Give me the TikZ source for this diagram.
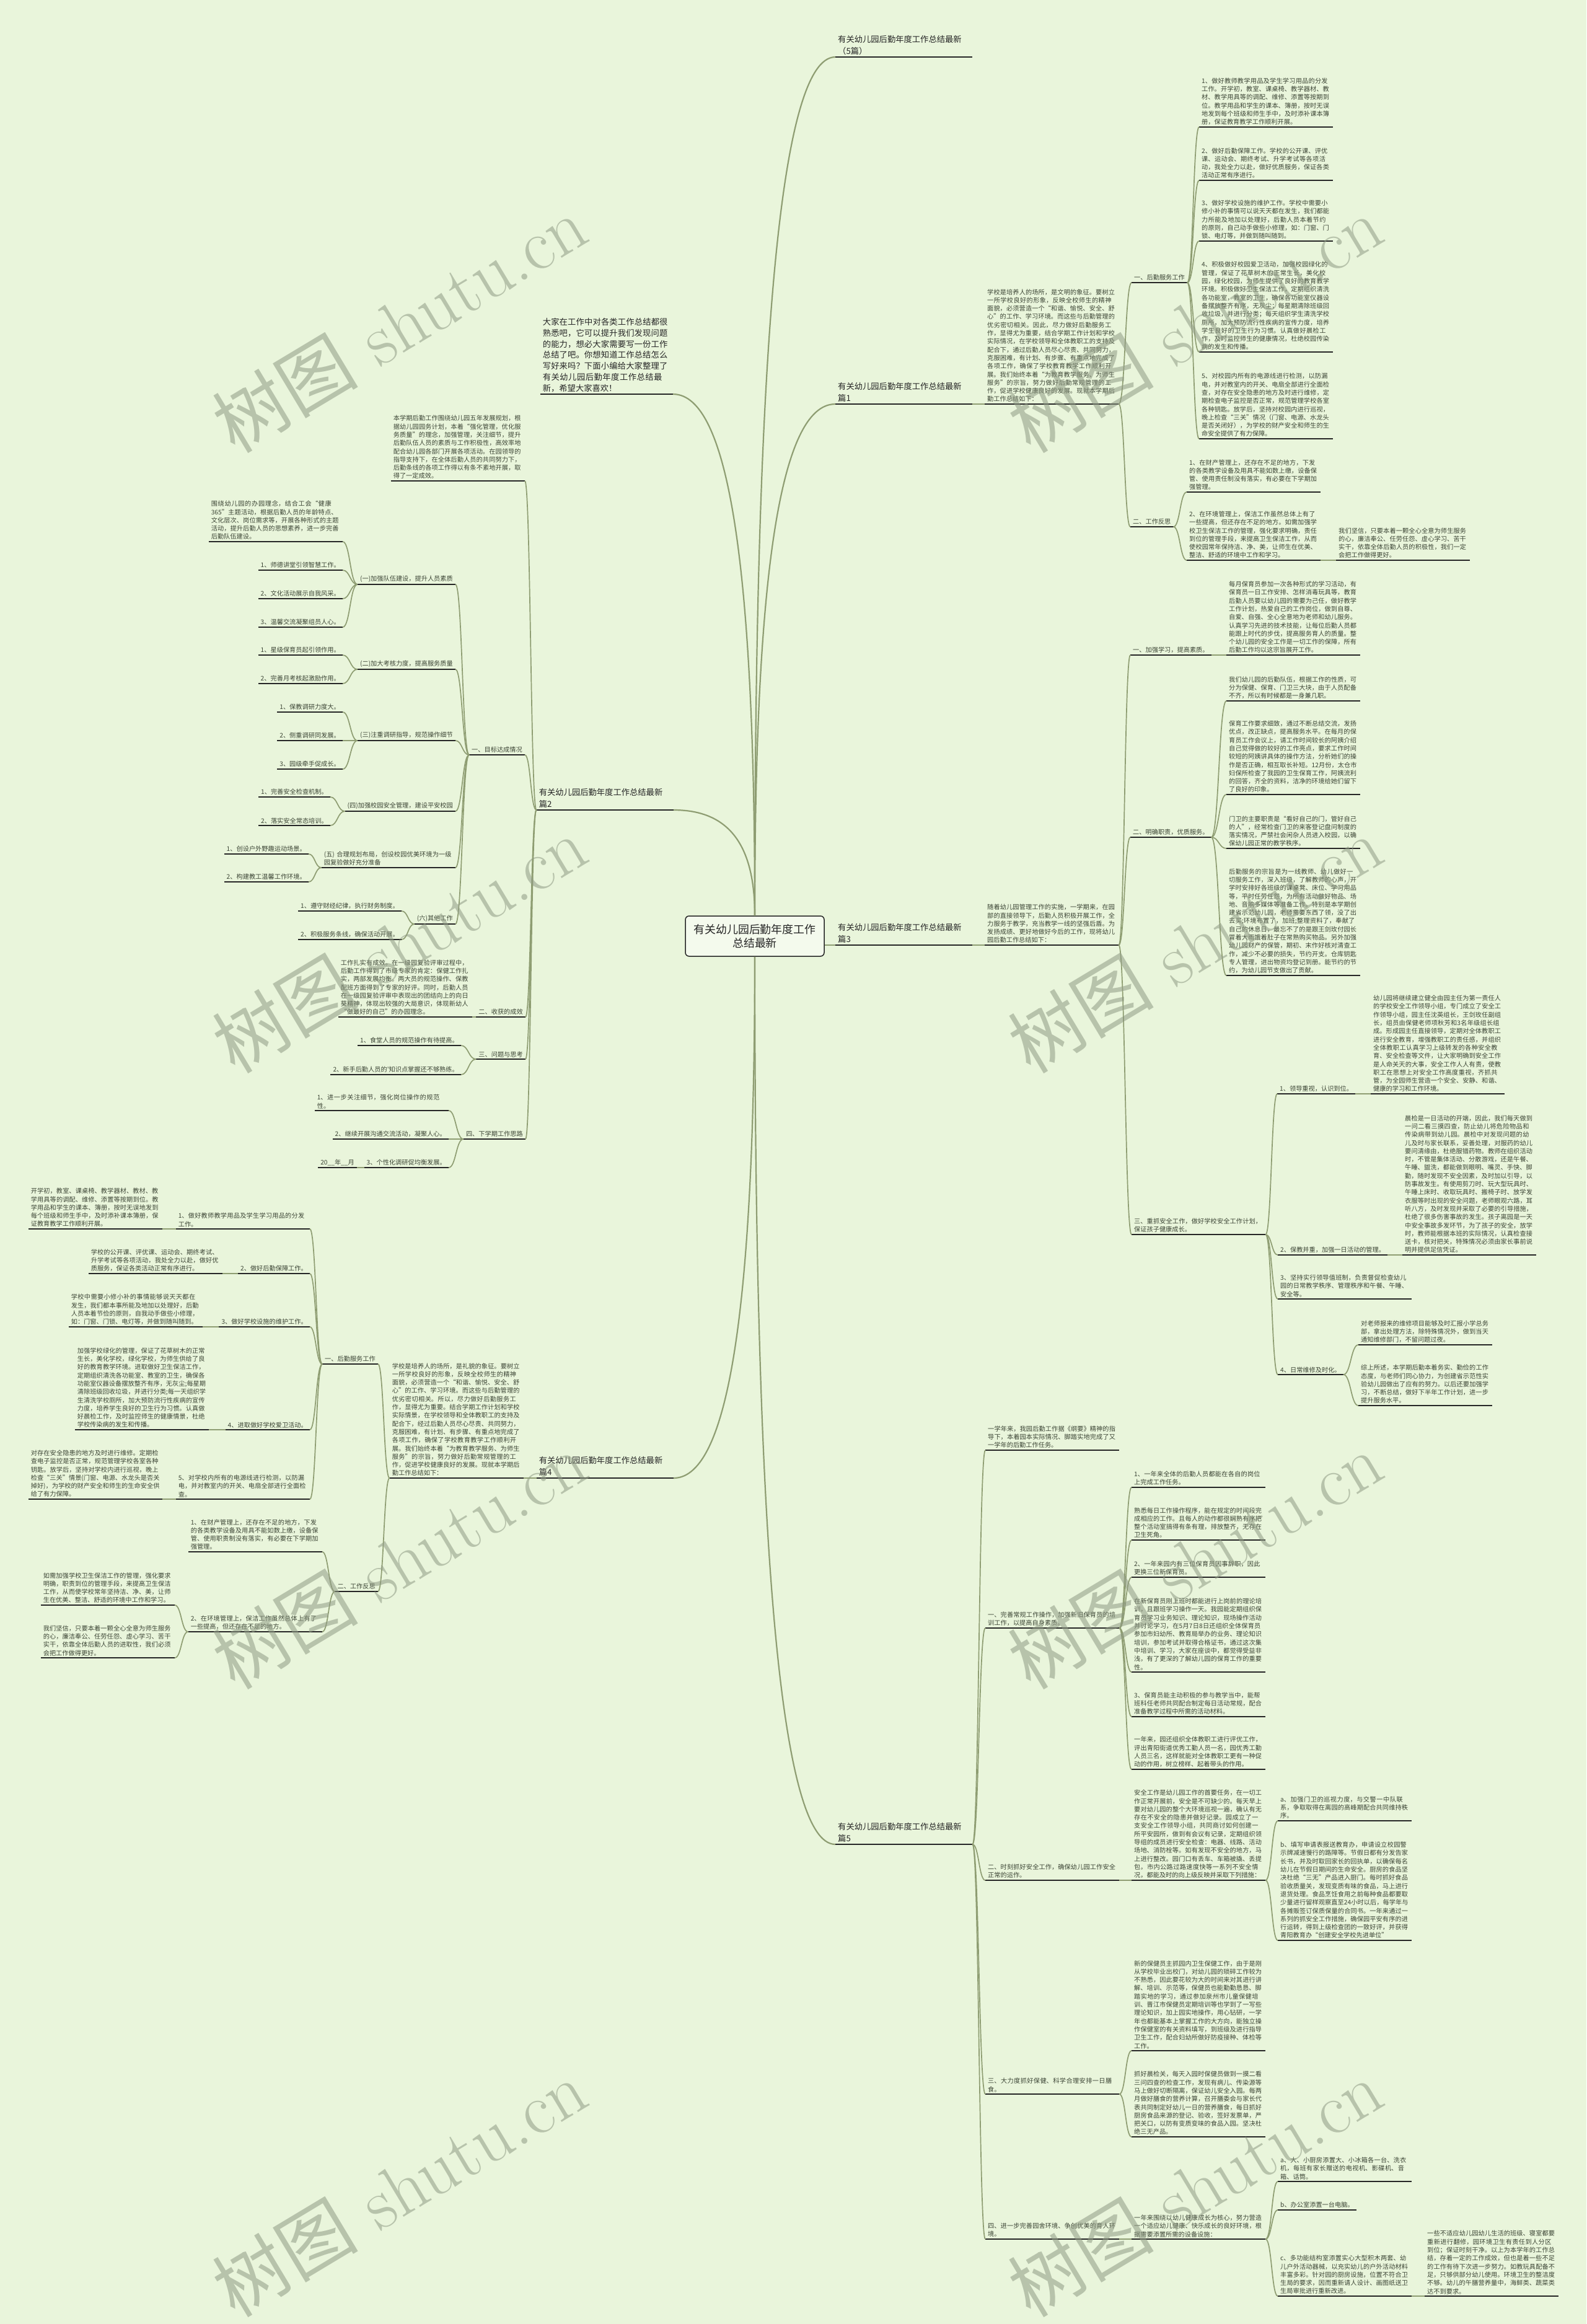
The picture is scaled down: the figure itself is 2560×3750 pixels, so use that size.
\documentclass[tikz,border=0pt]{standalone}
\usepackage{fontspec}
\newfontfamily\cjk{Noto Sans CJK SC}
\XeTeXlinebreaklocale "zh"
\XeTeXlinebreakskip=0pt plus 1pt
\usetikzlibrary{calc}
\definecolor{bg}{HTML}{E9F5DB}
\definecolor{wire}{HTML}{8E9D72}
\definecolor{ink}{HTML}{3C4535}
\definecolor{dark}{HTML}{262626}
\definecolor{wmark}{HTML}{8F9A84}
\newcommand\fsmall{\fontsize{10.2}{13.3}\selectfont}
\newcommand\fmid{\fontsize{13.3}{19}\selectfont}
\newcommand\fintro{\fontsize{13.3}{17.8}\selectfont}
\newcommand\fbig{\fontsize{17.9}{22}\selectfont}
\tikzset{
  every node/.style={font=\cjk\fsmall, text=ink, inner xsep=4pt, inner ysep=3pt, align=left},
  para/.style={text width=208pt},
  rt/.style={anchor=south west},
  lf/.style={anchor=south east},
  ttl/.style={font=\cjk\fmid, text=dark, text width=213pt},
  uline/.style={line width=2.6pt, draw=dark},
  conn/.style={draw=wire, line width=1.7pt},
  sc/.style={to path={let \p1=(\tikztostart), \p2=(\tikztotarget) in
    .. controls ({(\x1+\x2)/2},\y1) and ({(\x1+\x2)/2},\y2) .. (\tikztotarget)}},
  tk/.style={to path={let \p1=(\tikztostart), \p2=(\tikztotarget) in
    .. controls (\x1,{\y2+0.35*(\y1-\y2)}) and ({\x1+0.3*(\x2-\x1)},\y2) .. (\tikztotarget)}},
  wm/.style={font=\rmfamily\fontsize{118}{118}\selectfont, text=wmark, text opacity=.55, rotate=31, align=center}
}
\begin{document}
\begin{tikzpicture}[x=1pt,y=-1pt]
\useasboundingbox (0,0) rectangle (2560,3750);
\fill[bg] (0,0) rectangle (2560,3750);

\node[draw=dark, line width=1.5pt, rounded corners=6pt, fill=bg!50!white, font=\cjk\fbig, text=dark,
  align=center, minimum width=224pt, minimum height=65pt, inner sep=0pt] (c) at (1218,1510.5)
  {有关幼儿园后勤年度工作\\总结最新};

\node[ttl,rt] (r0) at (1348,92) {有关幼儿园后勤年度工作总结最新\\（5篇）};
\node[ttl,rt] (r1) at (1348,652) {有关幼儿园后勤年度工作总结最新\\篇1};
\node[ttl,rt] (r3) at (1348,1525) {有关幼儿园后勤年度工作总结最新\\篇3};
\node[ttl,rt] (r5) at (1348,2976) {有关幼儿园后勤年度工作总结最新\\篇5};

\node[para,rt] (r1p) at (1589,652) {学校是培养人的场所，是文明的象征。要树立一所学校良好的形象，反映全校师生的精神面貌，必须营造一个“和谐、愉悦、安全、舒心”的工作、学习环境。而这些与后勤管理的优劣密切相关。因此，尽力做好后勤服务工作，显得尤为重要，结合学期工作计划和学校实际情况，在学校领导和全体教职工的支持及配合下，通过后勤人员尽心尽责、共同努力，克服困难，有计划、有步骤、有重点地完成了各项工作，确保了学校教育教学工作顺利开展。我们始终本着“为教育教学服务、为师生服务”的宗旨，努力做好后勤常规管理的工作，促进学校健康良好的发展。现就本学期后勤工作总结如下：};
\node[rt] (r1a) at (1826,456) {一、后勤服务工作};
\node[rt] (r1b) at (1824,850) {二、工作反思};
\node[para,rt] (r1a1) at (1935,205) {1、做好教师教学用品及学生学习用品的分发工作。开学初，教室、课桌椅、教学器材、教材、教学用具等的调配、维修、添置等按期到位。教学用品和学生的课本、簿册，按时无误地发到每个班级和师生手中，及时添补课本簿册，保证教育教学工作顺利开展。};
\node[para,rt] (r1a2) at (1935,291) {2、做好后勤保障工作。学校的公开课、评优课、运动会、期终考试、升学考试等各项活动，我处全力以赴，做好优质服务，保证各类活动正常有序进行。};
\node[para,rt] (r1a3) at (1935,389) {3、做好学校设施的维护工作。学校中需要小修小补的事情可以说天天都在发生，我们都能力所能及地加以处理好，后勤人员本着节约的原则，自己动手做些小修理，如：门窗、门锁、电灯等，并做到随叫随到。};
\node[para,rt] (r1a4) at (1935,568) {4、积极做好校园爱卫活动，加强校园绿化的管理，保证了花草树木的正常生长，美化校园，绿化校园，为师生提供了良好的教育教学环境。积极做好卫生保洁工作，定期组织清洗各功能室，教室的卫生，确保各功能室仪器设备摆放整齐有序，无灰尘；每星期清除班级回收垃圾，并进行分类；每天组织学生清洗学校厕所，加大预防流行性疾病的宣传力度，培养学生良好的卫生行为习惯。认真做好晨检工作，及时监控师生的健康情况，杜绝校园传染病的发生和传播。};
\node[para,rt] (r1a5) at (1935,708) {5、对校园内所有的电源线进行检测，以防漏电，并对教室内的开关、电扇全部进行全面检查，对存在安全隐患的地方及时进行维修，定期检查电子监控是否正常，规范管理学校各室各种钥匙。放学后，坚持对校园内进行巡视，晚上检查“三关”情况（门窗、电源、水龙头是否关闭好），为学校的财产安全和师生的生命安全提供了有力保障。};
\node[para,rt] (r1b1) at (1915,794) {1、在财产管理上，还存在不足的地方，下发的各类教学设备及用具不能如数上缴，设备保管、使用责任制没有落实，有必要在下学期加强管理。};
\node[para,rt] (r1b2) at (1915,904) {2、在环境管理上，保洁工作虽然总体上有了一些提高，但还存在不足的地方。如需加强学校卫生保洁工作的管理，强化要求明确，责任到位的管理手段，来提高卫生保洁工作，从而使校园常年保持洁、净、美，让师生在优美、整洁、舒适的环境中工作和学习。};
\node[para,rt] (r1b2a) at (2156,904) {我们坚信，只要本着一颗全心全意为师生服务的心，廉洁奉公、任劳任怨、虚心学习、苦干实干，依靠全体后勤人员的积极性，我们一定会把工作做得更好。};

\node[para,rt] (r3p) at (1589,1525) {随着幼儿园管理工作的实施，一学期来，在园部的直接领导下，后勤人员积极开展工作，全力服务于教学，充当教学一线的坚强后盾。为发扬成绩、更好地做好今后的工作，现将幼儿园后勤工作总结如下：};
\node[rt] (r3a) at (1824,1057) {一、加强学习，提高素质。};
\node[para,rt] (r3a1) at (1979,1057) {每月保育员参加一次各种形式的学习活动，有保育员一日工作安排、怎样消毒玩具等，教育后勤人员要以幼儿园的需要为己任，做好教学工作计划，热爱自己的工作岗位，做到自尊、自爱、自强、全心全意地为老师和幼儿服务。认真学习先进的技术技能，让每位后勤人员都能跟上时代的步伐，提高服务育人的质量。整个幼儿园的安全工作是一切工作的保障，所有后勤工作均以这宗旨展开工作。};
\node[rt] (r3b) at (1824,1351) {二、明确职责，优质服务。};
\node[para,rt] (r3b1) at (1979,1131) {我们幼儿园的后勤队伍，根据工作的性质，可分为保健、保育、门卫三大块，由于人员配备不齐，所以有时候都是一身兼几职。};
\node[para,rt] (r3b2) at (1979,1282) {保育工作要求细致，通过不断总结交流，发扬优点，改正缺点，提高服务水平。在每月的保育员工作会议上，请工作时间较长的阿姨介绍自己觉得做的较好的工作亮点，要求工作时间较短的阿姨讲具体的操作方法，分析她们的操作是否正确，相互取长补短。12月份，太仓市妇保所检查了我园的卫生保育工作，阿姨流利的回答，齐全的资料，洁净的环境给她们留下了良好的印象。};
\node[para,rt] (r3b3) at (1979,1369) {门卫的主要职责是“看好自己的门，管好自己的人”，经常检查门卫的来客登记盘问制度的落实情况，严禁社会闲杂人员进入校园，以确保幼儿园正常的教学秩序。};
\node[para,rt] (r3b4) at (1979,1574) {后勤服务的宗旨是为一线教师、幼儿做好一切服务工作，深入班级，了解教师的心声，开学时安排好各班级的课桌凳、床位、学习用品等，平时任劳任怨，为所有活动做好物品、场地、音响多媒体等准备工作。特别是本学期创建省示范幼儿园，老师需要东西了领，没了出去买;环境布置了，加班;整理资料了，奉献了自己的休息日，最忘不了的是跟王剑玫付园长冒着大雨饿着肚子在常熟购买物品。另外加强幼儿园财产的保管，期初、末作好核对清查工作，减少不必要的损失，节约开支。仓库钥匙专人管理，进出物资均登记到册。能节约的节约，为幼儿园节支做出了贡献。};
\node[para,rt] (r3c) at (1826,1992) {三、重抓安全工作，做好学校安全工作计划，保证孩子健康成长。};
\node[rt] (r3c1) at (2061,1765) {1、领导重视，认识到位。};
\node[para,rt] (r3c1a) at (2212,1765) {幼儿园将继续建立健全由园主任为第一责任人的学校安全工作领导小组，专门成立了安全工作领导小组，园主任沈英组长，王剑玫任副组长，组员由保健老师项秋芳和3名年级组长组成。形成园主任直接领导，定期对全体教职工进行安全教育，增强教职工的责任感，并组织全体教职工认真学习上级转发的各种安全教育、安全检查等文件，让大家明确到安全工作是人命关天的大事，安全工作人人有责，使教职工在思想上对安全工作高度重视，齐抓共管，为全园师生营造一个安全、安静、和谐、健康的学习和工作环境。};
\node[rt] (r3c2) at (2062,2025) {2、保教并重，加强一日活动的管理。};
\node[para,rt] (r3c2a) at (2263,2025) {晨检是一日活动的开端，因此，我们每天做到一问二看三摸四查，防止幼儿将危险物品和传染病带到幼儿园。晨检中对发现问题的幼儿及时与家长联系，妥善处理，对服药的幼儿要问清缘由，杜绝服错药物。教师在组织活动时，不管是集体活动、分散游戏，还是午餐、午睡、盥洗，都能做到眼明、嘴灵、手快、脚勤，随时发现不安全因素，及时加以引导，以防事故发生。有使用剪刀时、玩大型玩具时、午睡上床时、收取玩具时、搬椅子时、放学发衣服等时出现的安全问题，老师眼观六路，耳听八方，及时发现并采取了必要的引导措施，杜绝了很多伤害事故的发生。孩子离园是一天中安全事故多发环节，为了孩子的安全，放学时，教师能根据本班的实际情况，认真检查接送卡，核对把关，特殊情况必须由家长事前说明并提供足信凭证。};
\node[para,rt] (r3c3) at (2062,2096) {3、坚持实行领导值班制，负责督促检查幼儿园的日常教学秩序、管理秩序和午餐、午睡、安全等。};
\node[rt] (r3c4) at (2062,2218) {4、日常维修及时化。};
\node[para,rt] (r3c4a) at (2192,2170) {对老师报来的维修项目能够及时汇报小学总务部，拿出处理方法，除特殊情况外，做到当天通知维修部门，不留问题过夜。};
\node[para,rt] (r3c4b) at (2192,2268) {综上所述，本学期后勤本着务实、勤俭的工作态度，与老师们同心协力，为创建省示范性实验幼儿园做出了应有的努力。以后还要加强学习，不断总结，做好下半年工作计划，进一步提升服务水平。};

\node[para,rt] (r5p) at (1590,2340) {一学年来，我园后勤工作据《纲要》精神的指导下，本着园本实际情况、脚踏实地完成了又一学年的后勤工作任务。};
\node[para,rt] (r5a) at (1590,2627) {一、完善常规工作操作，加强新旧保育员的培训工作，以提高自身素质。};
\node[para,rt] (r5b) at (1590,3034) {二、时刻抓好安全工作，确保幼儿园工作安全正常的运作。};
\node[para,rt] (r5c) at (1590,3379) {三、大力度抓好保健、科学合理安排一日膳食。};
\node[para,rt] (r5d) at (1590,3613) {四、进一步完善园舍环境、争创优美的育人环境。};
\node[para,rt] (r5a1) at (1826,2400) {1、一年来全体的后勤人员都能在各自的岗位上完成工作任务。};
\node[para,rt] (r5a2) at (1826,2485) {熟悉每日工作操作程序，能在规定的时间段完成相应的工作。且每人的动作都很娴熟有序把整个活动室搞得有条有理，排放整齐，无存在卫生死角。};
\node[para,rt] (r5a3) at (1826,2545) {2、一年来园内有三位保育员因事辞职，因此更换三位新保育员。};
\node[para,rt] (r5a4) at (1826,2698) {在新保育员刚上班时都能进行上岗前的理论培训，且跟班学习操作一天。我园能定期组织保育员学习业务知识、理论知识，现场操作活动并讨论学习，在5月7日8日还组织全体保育员参加市妇幼所、教育局举办的业务、理论知识培训，参加考试并取得合格证书，通过这次集中培训、学习，大家在座谈中，都觉得受益非浅，有了更深的了解幼儿园的保育工作的重要性。};
\node[para,rt] (r5a5) at (1826,2770) {3、保育员能主动积极的参与教学当中，能帮班科任老师共同配合制定每日活动常规，配合准备教学过程中所需的活动材料。};
\node[para,rt] (r5a6) at (1826,2855) {一年来，园还组织全体教职工进行评优工作，评出青阳街道优秀工勤人员一名，园优秀工勤人员三名，这样就能对全体教职工更有一种促动的作用，树立榜样、起着带头的作用。};
\node[para,rt] (r5b1) at (1826,3034) {安全工作是幼儿园工作的首要任务，在一切工作正常开展前，安全是不可缺少的。每天早上要对幼儿园的整个大环境巡视一遍，确认有无存在不安全的隐患并做好记录。园成立了一支安全工作领导小组，共同商讨如何创建一所平安园所，做到有会议有记录，定期组织领导组的成员进行安全检查：电器、线路、活动场地、消防栓等。如有发现不安全的地方，马上进行整改。园门口有丢车、车箱被撬、丢提包，市内公路过路速度快等一系列不安全情况，都能及时的向上级反映并采取下列措施：};
\node[para,rt] (r5b1a) at (2062,2938) {a、加强门卫的巡视力度，与交警一中队联系，争取取得在离园的高峰期配合共同维持秩序。};
\node[para,rt] (r5b1b) at (2062,3131) {b、填写申请表报送教育办，申请设立校园警示牌减速慢行的路障等。节假日都有分发告家长书，并及时取回家长的回执单，以确保每名幼儿在节假日期间的生命安全。厨房的食品坚决杜绝“三无”产品进入厨门。每时抓好食品验收质量关，发现变质有味的食品，马上进行退货处理。食品烹饪食用之前每种食品都要取少量进行留样观察直至24小时以后，每学年与各摊贩签订保质保量的合同书。一年来通过一系列的抓安全工作措施，确保园平安有序的进行运转，得到上级检查团的一致好评，并获得青阳教育办“创建安全学校先进单位”};
\node[para,rt] (r5c1) at (1826,3309) {新的保健员主抓园内卫生保健工作，由于是刚从学校毕业出校门，对幼儿园的琐碎工作较为不熟悉，因此要花较为大的时间来对其进行讲解、培训、示范等，保健员也能勤勤恳恳、脚踏实地的学习，通过参加泉州市儿童保健培训、晋江市保健员定期培训等也学到了一写些理论知识，加上园实地操作，用心钻研，一学年也都能基本上掌握工作的大方向，能独立操作保健室的有关资料填写，到班级及进行指导卫生工作，配合妇幼所做好防疫接种、体检等工作。};
\node[para,rt] (r5c2) at (1826,3448) {抓好晨检关，每天入园时保健员做到一摸二看三问四查的检查工作，发现有病儿、传染源等马上做好切断隔离，保证幼儿安全入园。每两月做好膳食的营养计算，召开膳委会与家长代表共同制定好幼儿一日的营养膳食，每日抓好厨房食品来源的登记、验收，签好发票单，严把关口，以防有变质变味的食品入园。坚决杜绝三无产品。};
\node[para,rt] (r5d1) at (1826,3613) {一年来围绕以幼儿健康成长为核心，努力营造一个适应幼儿健康、快乐成长的良好环境，根据需要添置所需的设备设施：};
\node[para,rt] (r5d1a) at (2062,3520) {a、大、小厨房添置大、小冰箱各一台、洗衣机，每班有家长赠送的电视机、影碟机、音箱、话筒。};
\node[rt] (r5d1b) at (2062,3566) {b、办公室添置一台电脑。};
\node[para,rt] (r5d1c) at (2062,3705) {c、多功能结构室添置实心大型积木两套、幼儿户外活动器械，以充实幼儿的户外活动材料丰富多彩。针对园的厨房设施，位置不符合卫生局的要求，因而重新请人设计、画图纸送卫生局审批进行重新改进。};
\node[para,rt] (r5d1c1) at (2299,3705) {一些不适应幼儿园幼儿生活的班级、寝室都要重新进行翻修，园环境卫生有责任到人分区到位；保证时刻干净。以上为本学年的工作总结，存着一定的工作成效，但也是着一些不足的工作有待下次进一步努力。如教玩具配备不足，只够供部分幼儿使用。环境卫生的整洁度不够。幼儿的午膳营养量中，海鲜类、蔬菜类达不到要求。};

\node[lf, font=\cjk\fintro, text=dark, text width=206pt] (l0) at (1086,636) {大家在工作中对各类工作总结都很熟悉吧，它可以提升我们发现问题的能力，想必大家需要写一份工作总结了吧。你想知道工作总结怎么写好来吗？下面小编给大家整理了有关幼儿园后勤年度工作总结最新，希望大家喜欢！};
\node[ttl,lf] (l2) at (1087,1307) {有关幼儿园后勤年度工作总结最新\\篇2};
\node[ttl,lf] (l4) at (1087,2385) {有关幼儿园后勤年度工作总结最新\\篇4};

\node[para,lf] (l2p) at (847,776) {本学期后勤工作围绕幼儿园五年发展规划，根据幼儿园园务计划，本着“强化管理，优化服务质量”的理念，加强管理，关注细节，提升后勤队伍人员的素质与工作积极性，高效率地配合幼儿园各部门开展各项活动。在园领导的指导支持下，在全体后勤人员的共同努力下，后勤条线的各项工作得以有条不紊地开展，取得了一定成效。};
\node[lf] (l2a) at (847,1218) {一、目标达成情况};
\node[lf] (l2b) at (848,1641) {二、收获的成效};
\node[lf] (l2c) at (848,1709) {三、问题与思考};
\node[lf] (l2d) at (848,1838) {四、下学期工作思路};
\node[lf] (l2a1) at (735,943) {(一)加强队伍建设，提升人员素质};
\node[lf] (l2a2) at (735,1080) {(二)加大考核力度，提高服务质量};
\node[lf] (l2a3) at (735,1195) {(三)注重调研指导，规范操作细节};
\node[lf] (l2a4) at (735,1309) {(四)加强校园安全管理，建设平安校园};
\node[para,lf] (l2a5) at (735,1400) {(五) 合理规划布局，创设校园优美环境为一级园复验做好充分准备};
\node[lf] (l2a6) at (735,1491) {(六)其他工作};
\node[para,lf] (l2a1p) at (553,874) {围绕幼儿园的办园理念，结合工会“健康365”主题活动，根据后勤人员的年龄特点、文化层次、岗位需求等，开展各种形式的主题活动，提升后勤人员的思想素养，进一步完善后勤队伍建设。};
\node[lf] (l2a1a) at (553,920) {1、师德讲堂引领智慧工作。};
\node[lf] (l2a1b) at (553,966) {2、文化活动展示自我风采。};
\node[lf] (l2a1c) at (553,1012) {3、温馨交流凝聚组员人心。};
\node[lf] (l2a2a) at (553,1057) {1、星级保育员起引领作用。};
\node[lf] (l2a2b) at (553,1103) {2、完善月考核起激励作用。};
\node[lf] (l2a3a) at (553,1149) {1、保教调研力度大。};
\node[lf] (l2a3b) at (553,1195) {2、侧重调研同发展。};
\node[lf] (l2a3c) at (553,1241) {3、园级牵手促成长。};
\node[lf] (l2a4a) at (533,1286) {1、完善安全检查机制。};
\node[lf] (l2a4b) at (533,1332) {2、落实安全常态培训。};
\node[lf] (l2a5a) at (498,1378) {1、创设户外野趣运动场景。};
\node[lf] (l2a5b) at (498,1423) {2、构建教工温馨工作环境。};
\node[lf] (l2a6a) at (648,1470) {1、遵守财经纪律，执行财务制度。};
\node[lf] (l2a6b) at (648,1516) {2、积极服务条线，确保活动开展。};
\node[para,lf] (l2b1) at (762,1641) {工作扎实有成效。在一级园复验评审过程中，后勤工作得到了市级专家的肯定：保健工作扎实，两部发展均衡。两大员的规范操作、保教配班方面得到了专家的好评。同时，后勤人员在一级园复验评审中表现出的团结向上的向日葵精神，体现出较强的大局意识，体现新幼人“做最好的自己”的办园理念。};
\node[lf] (l2c1) at (744,1687) {1、食堂人员的规范操作有待提高。};
\node[lf] (l2c2) at (744,1734) {2、新手后勤人员的'知识点掌握还不够熟练。};
\node[para,lf] (l2d1) at (724,1792) {1、进一步关注细节，强化岗位操作的规范性。};
\node[lf] (l2d2) at (724,1838) {2、继续开展沟通交流活动，凝聚人心。};
\node[lf] (l2d3) at (724,1884) {3、个性化调研促均衡发展。};
\node[lf] (l2d3a) at (576,1884) {20\_\_年\_\_月};

\node[para,lf] (l4p) at (845,2385) {学校是培养人的场所，是礼貌的象征。要树立一所学校良好的形象，反映全校师生的精神面貌，必须营造一个“和谐、愉悦、安全、舒心”的工作、学习环境。而这些与后勤管理的优劣密切相关。所以，尽力做好后勤服务工作，显得尤为重要。结合学期工作计划和学校实际情景，在学校领导和全体教职工的支持及配合下，经过后勤人员尽心尽责、共同努力，克服困难，有计划、有步骤、有重点地完成了各项工作，确保了学校教育教学工作顺利开展。我们始终本着“为教育教学服务、为师生服务”的宗旨，努力做好后勤常规管理的工作，促进学校健康良好的发展。现就本学期后勤工作总结如下：};
\node[lf] (l4a) at (610,2201) {一、后勤服务工作};
\node[lf] (l4b) at (610,2568) {二、工作反思};
\node[para,lf] (l4a1) at (500,1983) {1、做好教师教学用品及学生学习用品的分发工作。};
\node[para,lf] (l4a1a) at (262,1983) {开学初，教室、课桌椅、教学器材、教材、教学用具等的调配、维修、添置等按期到位。教学用品和学生的课本、簿册，按时无误地发到每个班级和师生手中，及时添补课本簿册，保证教育教学工作顺利开展。};
\node[lf] (l4a2) at (500,2055) {2、做好后勤保障工作。};
\node[para,lf] (l4a2a) at (359,2055) {学校的公开课、评优课、运动会、期终考试、升学考试等各项活动，我处全力以赴，做好优质服务，保证各类活动正常有序进行。};
\node[lf] (l4a3) at (500,2141) {3、做好学校设施的维护工作。};
\node[para,lf] (l4a3a) at (327,2141) {学校中需要小修小补的事情能够说天天都在发生，我们都本事所能及地加以处理好，后勤人员本着节俭的原则，自我动手做些小修理，如：门窗、门锁、电灯等，并做到随叫随到。};
\node[lf] (l4a4) at (500,2307) {4、进取做好学校爱卫活动。};
\node[para,lf] (l4a4a) at (337,2307) {加强学校绿化的管理，保证了花草树木的正常生长，美化学校，绿化学校，为师生供给了良好的教育教学环境。进取做好卫生保洁工作，定期组织清洗各功能室、教室的卫生，确保各功能室仪器设备摆放整齐有序，无灰尘;每星期清除班级回收垃圾，并进行分类;每一天组织学生清洗学校厕所，加大预防流行性疾病的宣传力度，培养学生良好的卫生行为习惯。认真做好晨检工作，及时监控师生的健康情景，杜绝学校传染病的发生和传播。};
\node[para,lf] (l4a5) at (500,2419) {5、对学校内所有的电源线进行检测，以防漏电，并对教室内的开关、电扇全部进行全面检查。};
\node[para,lf] (l4a5a) at (262,2419) {对存在安全隐患的地方及时进行维修。定期检查电子监控是否正常，规范管理学校各室各种钥匙。放学后，坚持对学校内进行巡视，晚上检查“三关”情景(门窗、电源、水龙头是否关掉好)，为学校的财产安全和师生的生命安全供给了有力保障。};
\node[para,lf] (l4b1) at (520,2504) {1、在财产管理上，还存在不足的地方，下发的各类教学设备及用具不能如数上缴，设备保管、使用职责制没有落实，有必要在下学期加强管理。};
\node[para,lf] (l4b2) at (520,2633) {2、在环境管理上，保洁工作虽然总体上有了一些提高，但还存在不足的地方。};
\node[para,lf] (l4b2a) at (282,2590) {如需加强学校卫生保洁工作的管理，强化要求明确，职责到位的管理手段，来提高卫生保洁工作，从而使学校常年坚持洁、净、美，让师生在优美、整洁、舒适的环境中工作和学习。};
\node[para,lf] (l4b2b) at (282,2675) {我们坚信，只要本着一颗全心全意为师生服务的心，廉洁奉公、任劳任怨、虚心学习、苦干实干，依靠全体后勤人员的进取性，我们必须会把工作做得更好。};

\foreach \n in {r0,r1,r3,r5,r1p,r1a,r1b,r1a1,r1a2,r1a3,r1a4,r1a5,r1b1,r1b2,r1b2a,
  r3p,r3a,r3a1,r3b,r3b1,r3b2,r3b3,r3b4,r3c,r3c1,r3c1a,r3c2,r3c2a,r3c3,r3c4,r3c4a,r3c4b,
  r5p,r5a,r5b,r5c,r5d,r5a1,r5a2,r5a3,r5a4,r5a5,r5a6,r5b1,r5b1a,r5b1b,r5c1,r5c2,r5d1,r5d1a,r5d1b,r5d1c,r5d1c1,
  l0,l2,l4,l2p,l2a,l2b,l2c,l2d,l2a1,l2a2,l2a3,l2a4,l2a5,l2a6,l2a1p,l2a1a,l2a1b,l2a1c,l2a2a,l2a2b,
  l2a3a,l2a3b,l2a3c,l2a4a,l2a4b,l2a5a,l2a5b,l2a6a,l2a6b,l2b1,l2c1,l2c2,l2d1,l2d2,l2d3,l2d3a,
  l4p,l4a,l4b,l4a1,l4a1a,l4a2,l4a2a,l4a3,l4a3a,l4a4,l4a4a,l4a5,l4a5a,l4b1,l4b2,l4b2a,l4b2b}
  \draw[uline] (\n.south west) -- (\n.south east);

\foreach \b in {r0,r1} \draw[conn, line width=2.2pt] (c.north) to[tk] (\b.south west);
\draw[conn, line width=2.2pt] (c.south) to[tk] (r5.south west);
\draw[conn, line width=2.2pt] (c.east |- r3.south west) -- (r3.south west);
\foreach \b in {l0,l2} \draw[conn, line width=2.2pt] (c.north) to[tk] (\b.south east);
\draw[conn, line width=2.2pt] (c.south) to[tk] (l4.south east);

\foreach \a/\b in {r1/r1p, r1p/r1a, r1p/r1b, r1a/r1a1, r1a/r1a2, r1a/r1a3, r1a/r1a4, r1a/r1a5,
  r1b/r1b1, r1b/r1b2, r1b2/r1b2a,
  r3/r3p, r3p/r3a, r3p/r3b, r3p/r3c, r3a/r3a1, r3b/r3b1, r3b/r3b2, r3b/r3b3, r3b/r3b4,
  r3c/r3c1, r3c/r3c2, r3c/r3c3, r3c/r3c4, r3c1/r3c1a, r3c2/r3c2a, r3c4/r3c4a, r3c4/r3c4b,
  r5/r5p, r5/r5a, r5/r5b, r5/r5c, r5/r5d, r5a/r5a1, r5a/r5a2, r5a/r5a3, r5a/r5a4, r5a/r5a5, r5a/r5a6,
  r5b/r5b1, r5b1/r5b1a, r5b1/r5b1b, r5c/r5c1, r5c/r5c2, r5d/r5d1, r5d1/r5d1a, r5d1/r5d1b, r5d1/r5d1c,
  r5d1c/r5d1c1}
  \draw[conn] (\a.south east) to[sc] (\b.south west);

\foreach \a/\b in {l2/l2p, l2/l2a, l2/l2b, l2/l2c, l2/l2d, l2a/l2a1, l2a/l2a2, l2a/l2a3, l2a/l2a4,
  l2a/l2a5, l2a/l2a6, l2a1/l2a1p, l2a1/l2a1a, l2a1/l2a1b, l2a1/l2a1c, l2a2/l2a2a, l2a2/l2a2b,
  l2a3/l2a3a, l2a3/l2a3b, l2a3/l2a3c, l2a4/l2a4a, l2a4/l2a4b, l2a5/l2a5a, l2a5/l2a5b,
  l2a6/l2a6a, l2a6/l2a6b, l2b/l2b1, l2c/l2c1, l2c/l2c2, l2d/l2d1, l2d/l2d2, l2d/l2d3, l2d3/l2d3a,
  l4/l4p, l4p/l4a, l4p/l4b, l4a/l4a1, l4a/l4a2, l4a/l4a3, l4a/l4a4, l4a/l4a5,
  l4a1/l4a1a, l4a2/l4a2a, l4a3/l4a3a, l4a4/l4a4a, l4a5/l4a5a, l4b/l4b1, l4b/l4b2,
  l4b2/l4b2a, l4b2/l4b2b}
  \draw[conn] (\a.south west) to[sc] (\b.south east);

\foreach \x in {644,1928} \foreach \y in {522,1523,2517,3530}
  \node[wm] at (\x,\y) {{\cjk 树图} shutu.cn};
\end{tikzpicture}
\end{document}
